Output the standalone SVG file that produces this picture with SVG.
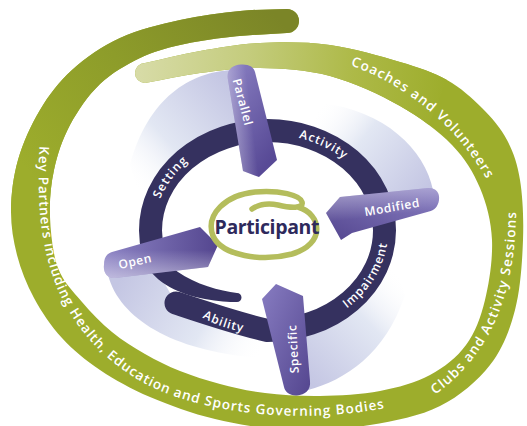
<svg xmlns="http://www.w3.org/2000/svg" width="527" height="426" viewBox="0 0 527 426">
<defs>
<style>
.lbl{font-family:"Open Sans","Noto Sans",sans-serif;font-weight:600;fill:#ffffff}
.outer{font-size:13.5px}
.ringt{font-size:12px;letter-spacing:1px}
.armt{font-size:12px;letter-spacing:0.6px}
.trail{stroke:none}
.ring{fill:none;stroke:#35315f;stroke-width:23;stroke-linecap:round}
</style>
<linearGradient id="gLight" gradientUnits="userSpaceOnUse" x1="140" y1="70" x2="445" y2="90">
<stop offset="0" stop-color="#d7dba6"/><stop offset="0.35" stop-color="#c4cc7d"/><stop offset="0.7" stop-color="#adb947"/><stop offset="1" stop-color="#9dad2c"/>
</linearGradient>
<linearGradient id="gDark" gradientUnits="userSpaceOnUse" x1="30" y1="235" x2="280" y2="20">
<stop offset="0" stop-color="#9dad2c"/><stop offset="0.12" stop-color="#9dad2c"/><stop offset="0.55" stop-color="#8d9c2a"/><stop offset="1" stop-color="#7b8527"/>
</linearGradient>
<linearGradient id="t1" gradientUnits="userSpaceOnUse" x1="245" y1="100" x2="140" y2="195"><stop offset="0" stop-color="#c4c6e3"/><stop offset="0.6" stop-color="#e2e7f3"/><stop offset="1" stop-color="#ffffff" stop-opacity="0"/></linearGradient>
<linearGradient id="t2" gradientUnits="userSpaceOnUse" x1="428" y1="188" x2="320" y2="105"><stop offset="0" stop-color="#c4c6e3"/><stop offset="0.6" stop-color="#e2e7f3"/><stop offset="1" stop-color="#ffffff" stop-opacity="0"/></linearGradient>
<linearGradient id="t3" gradientUnits="userSpaceOnUse" x1="305" y1="378" x2="405" y2="280"><stop offset="0" stop-color="#c4c6e3"/><stop offset="0.6" stop-color="#e2e7f3"/><stop offset="1" stop-color="#ffffff" stop-opacity="0"/></linearGradient>
<linearGradient id="t4" gradientUnits="userSpaceOnUse" x1="120" y1="280" x2="258" y2="360"><stop offset="0" stop-color="#c4c6e3"/><stop offset="0.6" stop-color="#e2e7f3"/><stop offset="1" stop-color="#ffffff" stop-opacity="0"/></linearGradient>
<linearGradient id="aPar" x1="0" y1="0" x2="0.6" y2="1"><stop offset="0" stop-color="#8a80c3"/><stop offset="1" stop-color="#584a96"/></linearGradient>
<linearGradient id="aMod" x1="1" y1="0" x2="0" y2="1"><stop offset="0" stop-color="#8a80c3"/><stop offset="1" stop-color="#54468f"/></linearGradient>
<linearGradient id="aOpen" x1="0" y1="0.5" x2="1" y2="0.5"><stop offset="0" stop-color="#8d84c5"/><stop offset="1" stop-color="#54468f"/></linearGradient>
<linearGradient id="aSpec" x1="0" y1="0" x2="1" y2="1"><stop offset="0" stop-color="#877cc1"/><stop offset="1" stop-color="#54468f"/></linearGradient>
<linearGradient id="hPar" x1="0" y1="0.85" x2="0.55" y2="0.7"><stop offset="0" stop-color="#ffffff" stop-opacity="0.45"/><stop offset="1" stop-color="#ffffff" stop-opacity="0"/></linearGradient>
<linearGradient id="hMod" x1="0.1" y1="0" x2="0.25" y2="0.6"><stop offset="0" stop-color="#ffffff" stop-opacity="0.4"/><stop offset="1" stop-color="#ffffff" stop-opacity="0"/></linearGradient>
<linearGradient id="hOpen" x1="0.5" y1="1" x2="0.5" y2="0.45"><stop offset="0" stop-color="#ffffff" stop-opacity="0.45"/><stop offset="1" stop-color="#ffffff" stop-opacity="0"/></linearGradient>
<path id="pCoach" d="M 340 62 C 395 78 455 120 490 185"/>
<path id="pKey" d="M 40 138 C 34 235 45 320 135 378 C 190 412 300 428 400 405"/>
<path id="pClubs" d="M 430 398 C 485 362 518 300 516 200"/>
<path id="pCW" d="M 154 230.5 A 113.5 96.5 0 0 1 381 230.5 A 113.5 96.5 0 0 1 154 230.5"/>
<path id="pCCW" d="M 147 230.5 A 120.5 103.5 0 0 0 388 230.5 A 120.5 103.5 0 0 0 147 230.5"/>
</defs>

<g id="spiral-band">
<path fill="#9dad2c" d="M 145 63 C 163.3 59 180.8 54.3 200 51 S 238.3 44 260 43 S 306.7 41.8 330 45 S 380.5 56.2 400 62 S 433.3 72.3 447 80 S 472 98 482 108 S 500.7 128 507 140 S 517.3 163.3 520 180 S 523.8 218.3 523 240 S 520.5 289.2 515 310 S 502.5 349 490 365 S 460 396 440 406 S 395 421 370 425 S 315.8 431 290 430 S 238.3 424.5 215 419 S 169.2 405.2 150 397 S 114.7 379.8 100 370 S 73 350 62 338 S 41.5 311.8 34 298 S 20.8 269.7 17 255 S 10.8 225.8 11 210 S 13.2 176.7 18 160 S 31 125 40 110 S 58.7 82 72 70 S 102 46.3 120 38 S 160 24.5 180 20 S 222.2 12.8 240 11 S 271.3 9.7 287 9 A 12 12 0 0 1 287 33 C 268 34.3 247.8 35 230 37 S 195 41.5 180 45 S 153.3 51.5 140 58 S 111.7 72.8 100 84 S 77.7 110.7 70 125 S 57.3 154.7 54 170 S 49.3 200.7 50 217 S 52.7 253.8 58 268 S 73 291.3 82 302 S 101.5 323.3 112 332 S 133.7 347.5 145 354 S 167.5 366 180 371 S 205.8 380.3 220 384 S 248.3 391 265 393 S 300.8 396.3 320 396 S 361.7 394.5 380 391 S 415.7 382.7 430 375 S 456.8 357.5 466 345 S 480.7 317.5 485 300 S 492.8 258.7 492 240 S 486.7 203.8 480 188 S 465.3 158.7 452 145 S 420.3 117.5 400 106 S 353.3 82.3 330 76 S 281.7 68.5 260 68 S 219.2 70.5 200 73 S 163.3 79.7 145 83 A 10 10 0 0 1 145 63 Z"/>
<path fill="url(#gLight)" d="M 145 63 C 163.3 59 180.8 54.3 200 51 S 238.3 44 260 43 S 306.7 41.8 330 45 S 380.5 56.2 400 62 S 433.3 72.3 447 80 L 428.6 124.7 C 419.8 118.1 410.15 111.75 400 106 C 379.7 94.5 353.3 82.3 330 76 S 281.7 68.5 260 68 S 219.2 70.5 200 73 S 163.3 79.7 145 83 A 10 10 0 0 1 145 63 Z"/>
<path fill="url(#gDark)" d="M 11 210 C 11.2 194.2 13.2 176.7 18 160 S 31 125 40 110 S 58.7 82 72 70 S 102 46.3 120 38 S 160 24.5 180 20 S 222.2 12.8 240 11 S 271.3 9.7 287 9 A 12 12 0 0 1 287 33 C 268 34.3 247.8 35 230 37 S 195 41.5 180 45 S 153.3 51.5 140 58 S 111.7 72.8 100 84 S 77.7 110.7 70 125 S 57.3 154.7 54 170 S 49.3 200.7 50 217 Z"/>
<text class="lbl outer"><textPath href="#pCoach" startOffset="11" textLength="181">Coaches and Volunteers</textPath></text>
<text class="lbl outer"><textPath href="#pKey" startOffset="8" textLength="165">Key Partners including</textPath></text>
<text class="lbl outer"><textPath href="#pKey" startOffset="179" textLength="131">Health, Education</textPath></text>
<text class="lbl outer"><textPath href="#pKey" startOffset="315" textLength="214">and Sports Governing Bodies</textPath></text>
<text class="lbl outer"><textPath href="#pClubs" startOffset="6" textLength="208">Clubs and Activity Sessions</textPath></text>
</g>

<g id="trails">
<path class="trail" fill="url(#t1)" d="M 232 70 C 190 72 148 98 130 165 L 150.5 230.5 A 117 100 0 0 1 251 131.5 Z"/>
<path class="trail" fill="url(#t2)" d="M 433 190 C 425 150 385 110 320 103 L 307.5 136.5 A 117 100 0 0 1 380.5 204.6 Z"/>
<path class="trail" fill="url(#t3)" d="M 308 390 C 345 380 385 355 405 295 L 384.5 230.5 A 117 100 0 0 1 297.8 327.1 Z"/>
<path class="trail" fill="url(#t4)" d="M 108 275 C 120 320 175 352 262 358 L 267.5 330.5 C 235 323 200 311 176 303 L 152 262 Z"/>
</g>

<g id="ring">
<path class="ring" d="M 176 303 C 200 311 235 323 267.5 330.5 A 117 100 0 0 0 384.5 230.5 A 117 100 0 0 0 150.5 230.5 A 117 100 0 0 0 154.5 256.4"/>
<path fill="#35315f" d="M 143 258 C 148 275 170 292 200 298 C 215 301 229 302.5 237 302 A 4.5 4.5 0 0 0 237 293 C 220 291 195 284 178 272 C 170 266 167 258 166 252 Z"/>
<text class="lbl ringt" text-anchor="middle"><textPath href="#pCW" startOffset="56">Setting</textPath></text>
<text class="lbl ringt" text-anchor="middle"><textPath href="#pCW" startOffset="222">Activity</textPath></text>
<text class="lbl ringt" text-anchor="middle"><textPath href="#pCCW" startOffset="300">Impairment</textPath></text>
<text class="lbl ringt" text-anchor="middle"><textPath href="#pCCW" startOffset="130">Ability</textPath></text>
</g>

<g id="arm-parallel">
<path fill="url(#aPar)" d="M 228 80 C 226 70 232 65 241 64.5 C 249 64 254 67 255 72 L 277 160 L 259 177 L 243 171 Z"/>
<path fill="url(#hPar)" d="M 228 80 C 226 70 232 65 241 64.5 C 249 64 254 67 255 72 L 277 160 L 259 177 L 243 171 Z"/>
<text class="lbl armt" text-anchor="middle" dominant-baseline="central" transform="translate(243,102) rotate(75)">Parallel</text>
</g>
<g id="arm-modified">
<path fill="url(#aMod)" d="M 326 213 L 340 197 L 428 188 C 436 187.5 440 193 439 200 C 438 207 434 210.5 429 211.5 L 352 233 L 341 240 Z"/>
<path fill="url(#hMod)" d="M 326 213 L 340 197 L 428 188 C 436 187.5 440 193 439 200 C 438 207 434 210.5 429 211.5 L 352 233 L 341 240 Z"/>
<text class="lbl armt" text-anchor="middle" dominant-baseline="central" transform="translate(392,207) rotate(-10)">Modified</text>
</g>
<g id="arm-open">
<path fill="url(#aOpen)" d="M 112 252 L 200 227 L 218 245 L 208 267 L 115 278 C 107 279 103 272 104 265 C 104 258 106 254 112 252 Z"/>
<path fill="url(#hOpen)" d="M 112 252 L 200 227 L 218 245 L 208 267 L 115 278 C 107 279 103 272 104 265 C 104 258 106 254 112 252 Z"/>
<text class="lbl armt" text-anchor="middle" dominant-baseline="central" transform="translate(135,261) rotate(-12)">Open</text>
</g>
<g id="arm-specific">
<path fill="url(#aSpec)" d="M 262 299 L 276 284 L 303 296 L 310 381 C 311 390 305 395 297 395.5 C 290 396 285 392 284 387 Z"/>
<text class="lbl armt" text-anchor="middle" dominant-baseline="central" transform="translate(293,349) rotate(-93)">Specific</text>
</g>

<g id="participant">
<path fill="none" stroke="#b4bd5c" stroke-width="5.5" stroke-linecap="round" d="M 298 207 C 322 214 326 244 292 254 C 262 262 222 256 213 236 C 205 214 226 195 255 192 C 280 190 300 195 302 202 C 304 209 290 208 278 205 C 268 203 258 205 252 209"/>
<text x="267" y="234" text-anchor="middle" font-family="'Open Sans','Noto Sans',sans-serif" font-weight="700" font-size="19.5" fill="#2e2a5c" textLength="105">Participant</text>
</g>
</svg>
